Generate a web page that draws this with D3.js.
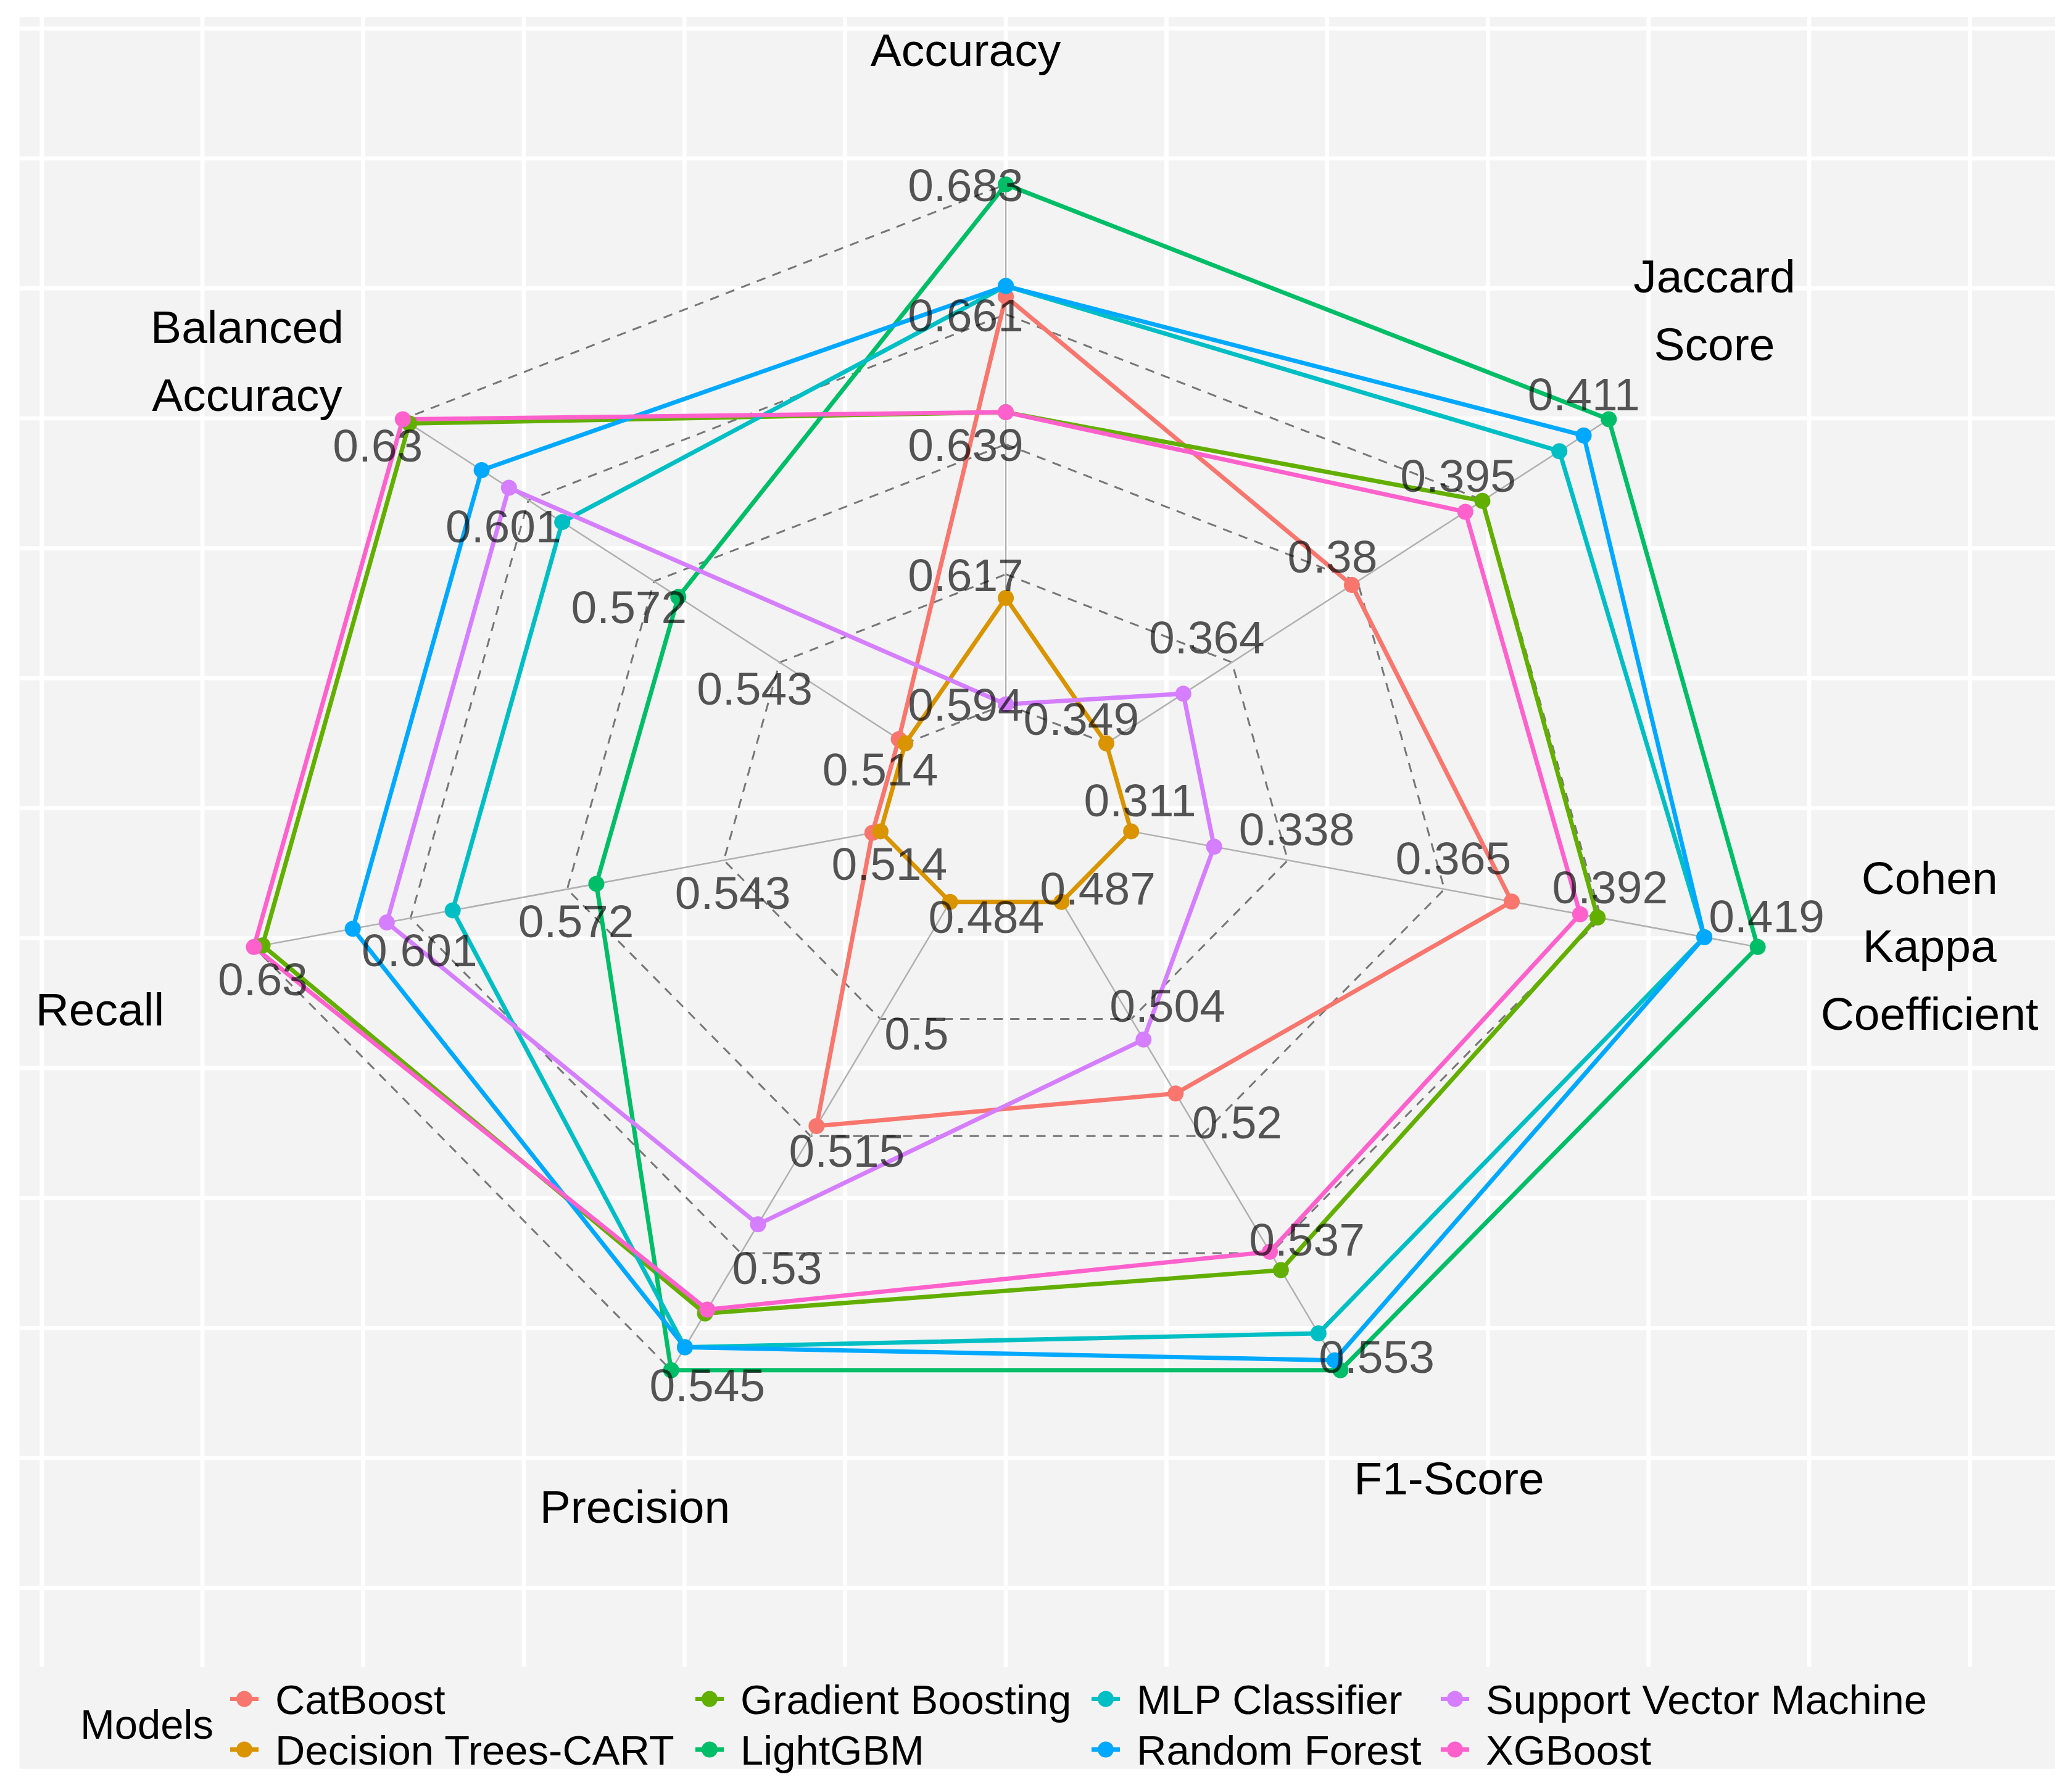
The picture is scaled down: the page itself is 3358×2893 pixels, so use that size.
<!DOCTYPE html>
<html>
<head>
<meta charset="utf-8">
<script src="https://cdn.jsdelivr.net/npm/d3@7"></script>
<style>
  html, body { margin: 0; padding: 0; background: #ffffff; }
  svg { display: block; }
</style>
</head>
<body>
<div id="chart"></div>
<script>
// ---------------- DATA ----------------
const axes = ["Accuracy", "Jaccard Score", "Cohen Kappa Coefficient", "F1-Score", "Precision", "Recall", "Balanced Accuracy"];
const axisLabelLines = [["Accuracy"], ["Jaccard", "Score"], ["Cohen", "Kappa", "Coefficient"], ["F1-Score"], ["Precision"], ["Recall"], ["Balanced", "Accuracy"]];

const models = ["CatBoost", "Decision Trees-CART", "Gradient Boosting", "LightGBM", "MLP Classifier", "Random Forest", "Support Vector Machine", "XGBoost"];
const modelColors = ["#F8766D", "#D99400", "#62AF00", "#00BE67", "#00BFC4", "#00A9FF", "#D57EFF", "#FF61CC"];

// values per model, in axis order
const catBoost      = [0.6638, 0.3793, 0.3766, 0.5140, 0.5132, 0.5155, 0.5155];
const decisionTrees = [0.6122, 0.3490, 0.3110, 0.4870, 0.4840, 0.5140, 0.5140];
const gradBoosting  = [0.6440, 0.3954, 0.3914, 0.5389, 0.5376, 0.6284, 0.6285];
const lightGBM      = [0.6830, 0.4110, 0.4190, 0.5530, 0.5450, 0.5666, 0.5664];
const mlpClassifier = [0.6656, 0.4049, 0.4098, 0.5478, 0.5420, 0.5932, 0.5932];
const randomForest  = [0.6656, 0.4079, 0.4098, 0.5516, 0.5420, 0.6117, 0.6118];
const svm           = [0.5940, 0.3585, 0.3253, 0.5064, 0.5260, 0.6054, 0.6055];
const xgBoost       = [0.6440, 0.3933, 0.3884, 0.5363, 0.5371, 0.6300, 0.6300];
const seriesValues = [catBoost, decisionTrees, gradBoosting, lightGBM, mlpClassifier, randomForest, svm, xgBoost];

// grid (tick) labels per axis
const ticksAccuracy  = ["0.594", "0.617", "0.639", "0.661", "0.683"];
const ticksJaccard   = ["0.349", "0.364", "0.38", "0.395", "0.411"];
const ticksCohen     = ["0.311", "0.338", "0.365", "0.392", "0.419"];
const ticksF1        = ["0.487", "0.504", "0.52", "0.537", "0.553"];
const ticksPrecision = ["0.484", "0.5", "0.515", "0.53", "0.545"];
const ticksRecall    = ["0.514", "0.543", "0.572", "0.601", "0.63"];
const ticksBalanced  = ["0.514", "0.543", "0.572", "0.601", "0.63"];
const axisTicks = [ticksAccuracy, ticksJaccard, ticksCohen, ticksF1, ticksPrecision, ticksRecall, ticksBalanced];

// ---------------- LAYOUT ----------------
const W = 3358, H = 2893;
const panel = { x0: 31.6, x1: 3330, y0: 27.6, y1: 2701.7 };
const legendBottom = 2866.7;
const innerR = 0.2, outerR = 1.2, labelR = 1.46, labelOffset = 0.0625;
const fontFam = "'Liberation Sans', Arial, Helvetica, sans-serif";
const lineW = 7, dotR = 13;

const x = d3.scaleLinear().domain([-1.5346, 1.632]).range([panel.x0, panel.x1]);
const y = d3.scaleLinear().domain([-1.652, 1.522]).range([panel.y1, panel.y0]);

const nAx = axes.length;
const angle = i => i * 2 * Math.PI / nAx;
// radial scales per axis
const radial = axisTicks.map(t => d3.scaleLinear().domain([+t[0], +t[t.length - 1]]).range([innerR, outerR]));
const ptData = (i, r) => [r * Math.sin(angle(i)), r * Math.cos(angle(i))];
const perp = i => [-Math.cos(angle(i)), Math.sin(angle(i))];
const toPx = p => [x(p[0]), y(p[1])];

const svg = d3.select("#chart").append("svg").attr("width", W).attr("height", H)
  .attr("font-family", fontFam);

svg.append("rect").attr("width", W).attr("height", H).attr("fill", "#ffffff");
svg.append("rect").attr("x", panel.x0).attr("y", panel.y0)
  .attr("width", panel.x1 - panel.x0).attr("height", legendBottom - panel.y0)
  .attr("fill", "#F3F3F3");

// background grid
const gridVals = d3.range(-1.5, 1.51, 0.25);
const grid = svg.append("g").attr("stroke", "#ffffff").attr("stroke-width", 6.7);
gridVals.forEach(v => {
  grid.append("line").attr("x1", x(v)).attr("x2", x(v)).attr("y1", panel.y0).attr("y2", panel.y1);
  grid.append("line").attr("y1", y(v)).attr("y2", y(v)).attr("x1", panel.x0).attr("x2", panel.x1);
});

// dashed rings
const rings = d3.range(5).map(k => innerR + k * (outerR - innerR) / 4);
const line = d3.line().x(d => d[0]).y(d => d[1]);
rings.forEach(r => {
  const pts = d3.range(nAx).map(i => toPx(ptData(i, r)));
  pts.push(pts[0]);
  svg.append("path").attr("d", line(pts)).attr("fill", "none")
    .attr("stroke", "#777777").attr("stroke-width", 3).attr("stroke-dasharray", "15,12");
});

// axis spokes
d3.range(nAx).forEach(i => {
  const a = toPx(ptData(i, innerR)), b = toPx(ptData(i, outerR));
  svg.append("line").attr("x1", a[0]).attr("y1", a[1]).attr("x2", b[0]).attr("y2", b[1])
    .attr("stroke", "#B0B0B0").attr("stroke-width", 2.5);
});

// model polygons
seriesValues.forEach((vals, m) => {
  const pts = vals.map((v, i) => toPx(ptData(i, radial[i](v))));
  pts.push(pts[0]);
  svg.append("path").attr("d", line(pts)).attr("fill", "none")
    .attr("stroke", modelColors[m]).attr("stroke-width", lineW).attr("stroke-linejoin", "round");
});
seriesValues.forEach((vals, m) => {
  vals.forEach((v, i) => {
    const p = toPx(ptData(i, radial[i](v)));
    svg.append("circle").attr("cx", p[0]).attr("cy", p[1]).attr("r", dotR).attr("fill", modelColors[m]);
  });
});

// level labels
axisTicks.forEach((ticks, i) => {
  const pp = perp(i);
  ticks.forEach((t, k) => {
    const d = ptData(i, rings[k]);
    const p = toPx([d[0] + labelOffset * pp[0], d[1] + labelOffset * pp[1]]);
    svg.append("text").attr("x", p[0]).attr("y", p[1] + 27)
      .attr("text-anchor", "middle").attr("font-size", 75)
      .attr("fill", "#000000").attr("fill-opacity", 0.66).text(t);
  });
});

// axis names
const lineH = 110;
axisLabelLines.forEach((lines, i) => {
  const pp = perp(i);
  const d = ptData(i, labelR);
  const p = toPx([d[0] + labelOffset * pp[0], d[1] + labelOffset * pp[1]]);
  const t = svg.append("text").attr("text-anchor", "middle").attr("font-size", 75).attr("fill", "#000000");
  lines.forEach((ln, j) => {
    t.append("tspan").attr("x", p[0])
      .attr("y", p[1] + 27 + (j - (lines.length - 1) / 2) * lineH).text(ln);
  });
});

// legend
const legend = svg.append("g");
const legendFont = 67;
const rowY = [2753.5, 2835.5];
const keyX = [396, 1150, 1792, 2358];
legend.append("text").attr("x", 130).attr("y", 2794 + 24).attr("font-size", legendFont)
  .attr("fill", "#000").text("Models");
models.forEach((m, idx) => {
  const col = Math.floor(idx / 2), row = idx % 2;
  const kx = keyX[col], ky = rowY[row];
  legend.append("line").attr("x1", kx - 23).attr("x2", kx + 23).attr("y1", ky).attr("y2", ky)
    .attr("stroke", modelColors[idx]).attr("stroke-width", lineW);
  legend.append("circle").attr("cx", kx).attr("cy", ky).attr("r", dotR).attr("fill", modelColors[idx]);
  legend.append("text").attr("x", kx + 50).attr("y", ky + 24).attr("font-size", legendFont)
    .attr("fill", "#000").text(m);
});
</script>
</body>
</html>
